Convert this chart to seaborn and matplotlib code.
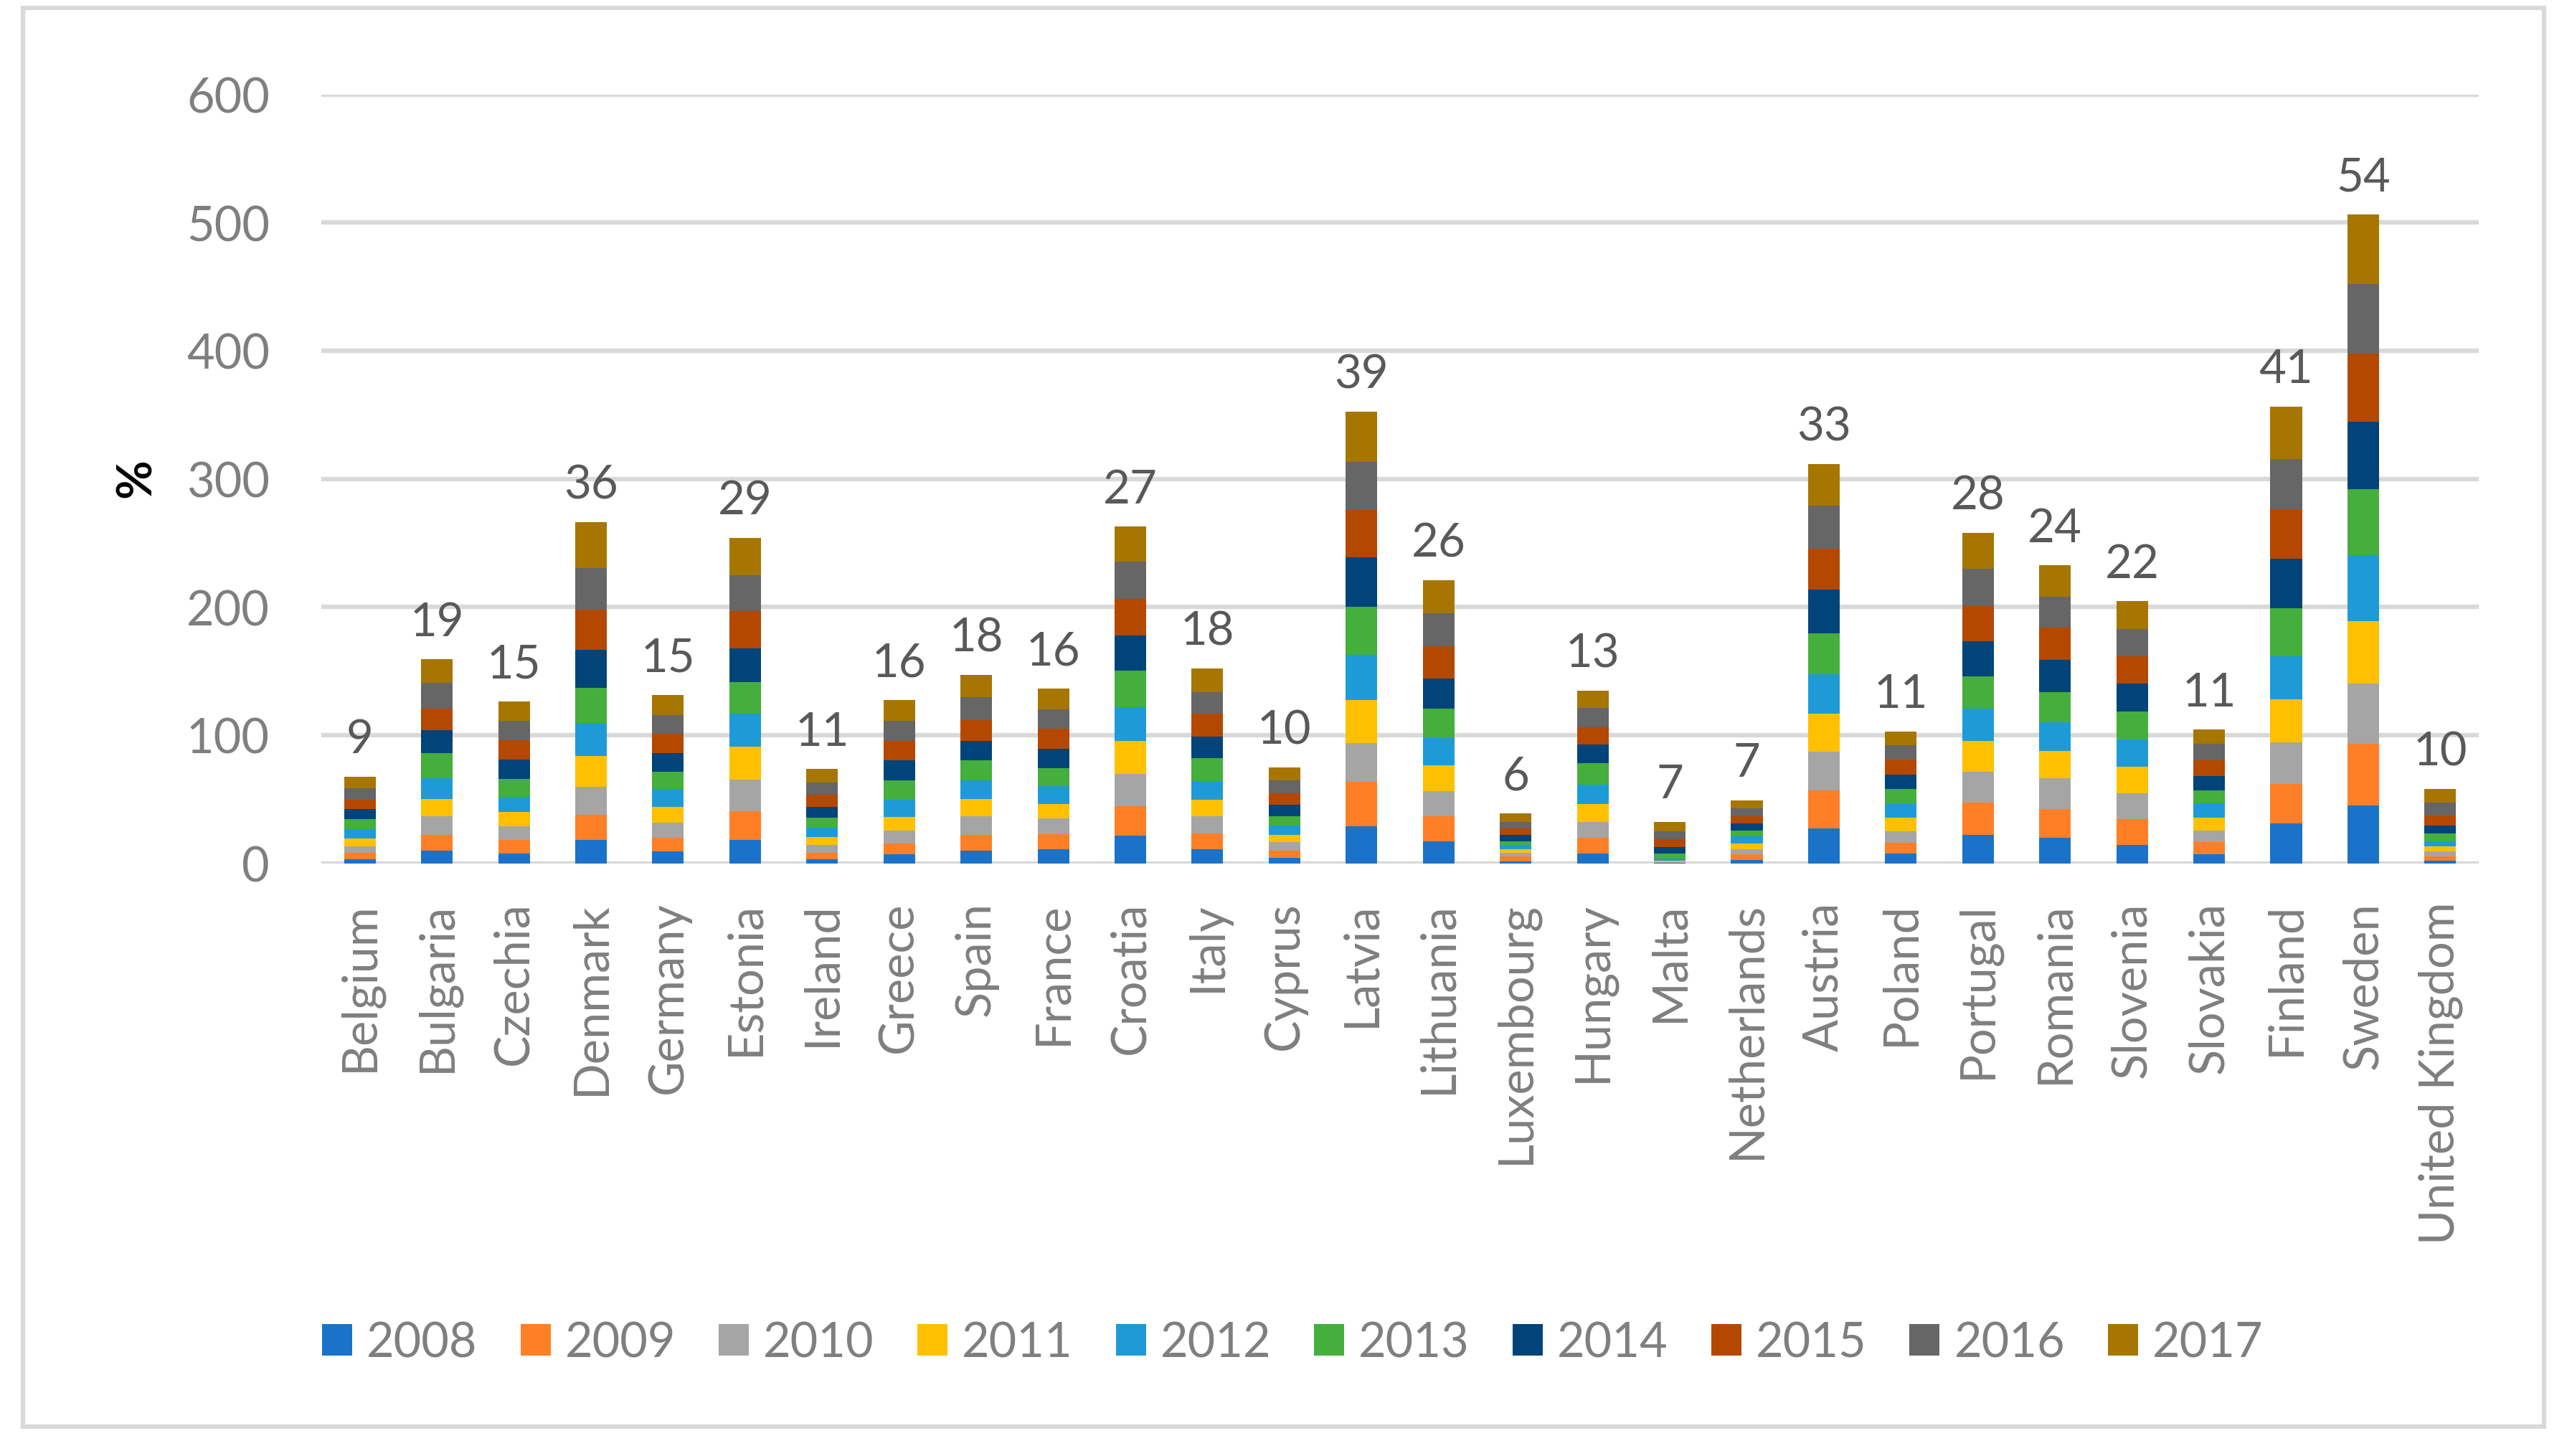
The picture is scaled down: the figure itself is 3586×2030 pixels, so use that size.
import numpy as np
import pandas as pd
import matplotlib
matplotlib.use("Agg")
import matplotlib.pyplot as plt
from matplotlib.patches import Patch, Rectangle
import seaborn as sns

countries = ["Belgium", "Bulgaria", "Czechia", "Denmark", "Germany", "Estonia",
             "Ireland", "Greece", "Spain", "France", "Croatia", "Italy", "Cyprus",
             "Latvia", "Lithuania", "Luxembourg", "Hungary", "Malta", "Netherlands",
             "Austria", "Poland", "Portugal", "Romania", "Slovenia", "Slovakia",
             "Finland", "Sweden", "United Kingdom"]

years = ["2008", "2009", "2010", "2011", "2012", "2013", "2014", "2015", "2016", "2017"]

# one list per year, same order as countries
v2008 = [3.0, 9.9, 7.7, 18.0, 9.4, 18.0, 3.0, 7.3, 9.9, 10.7, 21.4, 11.1, 4.3, 29.1,
         17.1, 1.7, 7.7, 0.2, 2.6, 27.0, 7.7, 22.3, 20.1, 14.6, 7.3, 31.3, 45.0, 2.1]
v2009 = [5.1, 12.0, 10.3, 20.1, 10.7, 22.7, 5.1, 8.1, 12.4, 12.0, 23.1, 12.0, 5.6, 34.3,
         19.7, 3.4, 12.0, 0.2, 4.7, 30.0, 8.1, 25.3, 22.3, 20.1, 9.4, 30.8, 48.0, 3.4]
v2010 = [5.1, 14.6, 10.7, 21.8, 11.6, 24.8, 6.4, 10.3, 14.6, 12.4, 25.3, 13.7, 6.4, 30.4,
         19.7, 3.0, 12.8, 0.4, 3.9, 30.0, 9.4, 24.0, 24.0, 20.1, 9.0, 32.5, 47.5, 3.9]
v2011 = [6.4, 13.7, 11.1, 23.6, 12.4, 25.3, 6.0, 10.7, 13.3, 11.1, 25.7, 12.8, 6.0, 33.8,
         20.1, 3.0, 13.7, 1.0, 4.3, 30.0, 10.3, 24.0, 21.4, 20.6, 9.9, 33.4, 48.4, 3.9]
v2012 = [7.3, 16.3, 12.0, 25.7, 14.1, 25.7, 7.3, 13.3, 14.6, 14.1, 26.1, 14.6, 6.9, 35.1,
         21.0, 3.0, 15.4, 1.8, 5.6, 30.8, 10.7, 24.8, 22.3, 21.0, 11.1, 33.4, 51.4, 3.9]
v2013 = [7.7, 19.3, 14.1, 27.8, 13.3, 24.8, 7.7, 15.0, 15.4, 14.1, 28.7, 17.6, 7.7, 37.7,
         23.1, 3.0, 16.7, 3.8, 4.3, 31.7, 11.6, 25.7, 23.6, 22.3, 9.9, 37.7, 51.4, 6.0]
v2014 = [7.7, 18.0, 15.0, 29.6, 14.6, 26.6, 8.6, 15.8, 15.4, 15.0, 27.4, 17.1, 9.0, 38.5,
         23.6, 5.1, 14.6, 5.5, 5.6, 34.3, 11.1, 27.4, 24.8, 21.4, 11.6, 38.5, 52.7, 6.4]
v2015 = [7.3, 17.1, 15.0, 31.3, 15.0, 28.7, 9.4, 15.0, 16.3, 15.4, 28.7, 17.6, 9.0, 36.8,
         25.3, 5.1, 13.3, 5.9, 5.6, 31.7, 12.0, 27.4, 25.3, 21.4, 12.4, 38.5, 53.5, 7.7]
v2016 = [9.0, 19.7, 15.4, 32.5, 14.6, 28.3, 9.4, 15.4, 17.6, 15.4, 29.1, 17.1, 9.9, 37.7,
         25.7, 5.1, 15.0, 6.4, 6.0, 33.4, 11.1, 28.7, 24.4, 21.4, 12.4, 39.4, 54.0, 10.3]
v2017 = [9.1, 18.7, 14.8, 35.8, 15.5, 29.2, 10.6, 16.3, 17.5, 16.3, 27.3, 18.3, 9.9, 39.0,
         25.8, 6.4, 13.3, 7.2, 6.6, 32.6, 10.9, 28.1, 24.5, 21.5, 11.5, 41.0, 54.5, 10.2]

top_labels = ["9", "19", "15", "36", "15", "29", "11", "16", "18", "16", "27", "18", "10",
              "39", "26", "6", "13", "7", "7", "33", "11", "28", "24", "22", "11", "41",
              "54", "10"]

colors = ["#1A73C8", "#FF7F27", "#A5A5A5", "#FFC000", "#1E9BD7",
          "#44AF3C", "#004479", "#B54800", "#666666", "#A67600"]

df = pd.DataFrame({"country": countries})
for yr, vals in zip(years, [v2008, v2009, v2010, v2011, v2012,
                            v2013, v2014, v2015, v2016, v2017]):
    df[yr] = vals
# cumulative heights for stacking
cum = df[years].cumsum(axis=1)
cum["country"] = df["country"]

sns.set_style("white")
plt.rcParams["font.family"] = ["Lato", "DejaVu Sans"]

fig = plt.figure(figsize=(35.87, 20.31), dpi=100)
ax = fig.add_axes([0.1249, 0.4069, 0.8386, 0.5278])

# draw from the top segment down so lower years sit over the taller bars
for yr, col in reversed(list(zip(years, colors))):
    sns.barplot(data=cum, x="country", y=yr, order=countries, color=col,
                saturation=1, width=0.41, linewidth=0, errorbar=None, ax=ax)

ax.set_xlim(-0.5, len(countries) - 0.5)
ax.set_ylim(0, 600)
ax.set_yticks(np.arange(0, 601, 100))
ax.yaxis.grid(True, color="#D9D9D9", linewidth=4.5)
ax.set_axisbelow(True)
for s in ax.spines.values():
    s.set_visible(False)

ax.set_xlabel("")
ax.set_ylabel("")
ax.tick_params(axis="y", length=0, pad=52, labelsize=48, labelcolor="#7F7F7F")
ax.tick_params(axis="x", length=0, pad=38, labelsize=48, labelcolor="#7F7F7F")
ax.set_xticks(range(len(countries)))
ax.set_xticklabels(countries, rotation=90, ha="center", va="top")

totals = cum["2017"].values
for i, (t, lab) in enumerate(zip(totals, top_labels)):
    ax.annotate(lab, (i, t), xytext=(0, 24), textcoords="offset points",
                ha="center", va="baseline", fontsize=47, color="#595959")

fig.text(191 / 3587, 1 - 667 / 2031, "%", rotation=90, ha="center", va="center",
         fontsize=48, fontweight="bold", color="black")

handles = [Patch(facecolor=c, edgecolor="none", label=y) for y, c in zip(years, colors)]
fig.legend(handles=handles, loc="center", bbox_to_anchor=(0.5025, 0.0775), ncol=10,
           frameon=False, fontsize=48, labelcolor="#7F7F7F", handlelength=0.63,
           handleheight=0.63, handletextpad=0.3, columnspacing=0.9)

# light chart-area border
fig.patches.append(Rectangle((32 / 3587, 1 - 1990 / 2031), (3547 - 32) / 3587,
                             (1990 - 12) / 2031, transform=fig.transFigure,
                             fill=False, edgecolor="#D9D9D9", linewidth=4.5))

fig.savefig("out.png", dpi=100, facecolor="white")
